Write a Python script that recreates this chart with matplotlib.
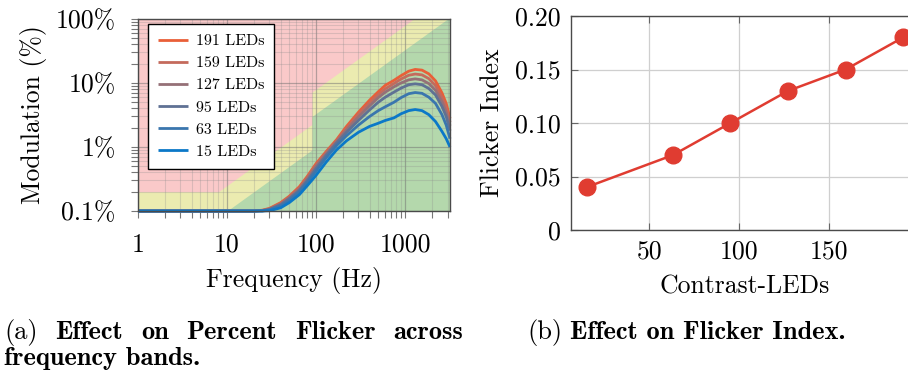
import matplotlib
matplotlib.use("Agg")
import matplotlib.pyplot as plt
from matplotlib.ticker import FixedLocator, FixedFormatter, LogLocator, NullFormatter

plt.rcParams["font.family"] = ["cmr10", "DejaVu Sans"]
plt.rcParams["axes.unicode_minus"] = False
plt.rcParams["mathtext.fontset"] = "cm"

# ---------------- Panel (a): percent flicker vs frequency ----------------
freq_hz = [1, 20, 25, 30, 40, 50, 65, 80, 100, 130, 170, 220, 300, 400, 500,
           600, 750, 900, 1100, 1300, 1550, 1850, 2200, 2600, 2900, 3200]

mod_191 = [0.1, 0.1, 0.103, 0.11, 0.135, 0.17, 0.24, 0.35, 0.55, 0.85, 1.3, 2.1, 3.5,
           5.4, 7.3, 9.2, 11.0, 13.0, 15.3, 16.3, 15.9, 13.9, 10.8, 7.0, 4.8, 2.8]
mod_159 = [0.1, 0.1, 0.102, 0.108, 0.131, 0.165, 0.23, 0.335, 0.52, 0.82, 1.25, 1.95, 3.25,
           4.9, 6.6, 8.1, 9.8, 11.5, 13.2, 13.8, 13.4, 11.7, 9.1, 6.0, 4.1, 2.45]
mod_127 = [0.1, 0.1, 0.102, 0.107, 0.128, 0.16, 0.22, 0.32, 0.5, 0.78, 1.2, 1.85, 2.95,
           4.4, 5.9, 7.2, 8.7, 10.0, 11.2, 11.6, 11.2, 9.8, 7.7, 5.1, 3.5, 2.15]
mod_95 = [0.1, 0.1, 0.101, 0.106, 0.125, 0.155, 0.21, 0.3, 0.46, 0.74, 1.15, 1.7, 2.6,
          3.8, 5.0, 6.0, 7.2, 8.3, 9.4, 9.7, 9.4, 8.2, 6.5, 4.3, 3.0, 1.8]
mod_63 = [0.1, 0.1, 0.1, 0.104, 0.12, 0.145, 0.2, 0.28, 0.42, 0.68, 1.05, 1.5, 2.2,
          3.0, 3.7, 4.25, 5.0, 5.9, 6.8, 7.1, 6.9, 6.0, 4.8, 3.2, 2.2, 1.35]
mod_15 = [0.1, 0.1, 0.1, 0.101, 0.112, 0.135, 0.18, 0.25, 0.36, 0.58, 0.9, 1.25, 1.7,
          2.1, 2.35, 2.6, 2.85, 3.3, 3.7, 3.85, 3.7, 3.2, 2.5, 1.75, 1.35, 1.0]

series_labels = ["191 LEDs", "159 LEDs", "127 LEDs", "95 LEDs", "63 LEDs", "15 LEDs"]
series_values = [mod_191, mod_159, mod_127, mod_95, mod_63, mod_15]
series_colors = ["#E95F38", "#C46A5C", "#957077", "#5F7194", "#3A76AE", "#0B78C8"]

# IEEE 1789 risk boundaries (modulation in %)
low_risk_f = [1, 8, 90, 90, 1250, 3200]
low_risk_m = [0.2, 0.2, 2.25, 7.2, 100, 100]
no_effect_f = [1, 10, 90, 90, 3000, 3200]
no_effect_m = [0.1, 0.1, 0.9, 3.0, 100, 100]

x_ticks_a = [1, 10, 100, 1000]
x_ticklabels_a = ["1", "10", "100", "1000"]
y_ticks_a = [0.1, 1, 10, 100]
y_ticklabels_a = ["0.1%", "1%", "10%", "100%"]

# ---------------- Panel (b): flicker index vs LED count ----------------
contrast_leds = [15, 63, 95, 127, 159, 191]
flicker_index = [0.04, 0.07, 0.10, 0.13, 0.15, 0.18]
y_ticks_b = [0, 0.05, 0.10, 0.15, 0.20]
y_ticklabels_b = ["0", "0.05", "0.10", "0.15", "0.20"]
x_ticks_b = [50, 100, 150]

W, H = 908, 376
fig = plt.figure(figsize=(W / 100, H / 100), dpi=100)

def frac(left, top, right, bottom):
    return [left / W, 1 - bottom / H, (right - left) / W, (bottom - top) / H]

FS = 18.5
spine_col = "#4a4a4a"

ax = fig.add_axes(frac(138, 19, 450, 211))
ax.set_xscale("log")
ax.set_yscale("log")
ax.set_xlim(1, 3200)
ax.set_ylim(0.1, 100)
ax.set_facecolor("#FAC9C9")
ax.fill_between(low_risk_f, 0.1, low_risk_m, color="#EBEBB0", lw=0, zorder=1)
ax.fill_between(no_effect_f, 0.1, no_effect_m, color="#B4D8AC", lw=0, zorder=1.1)

for vals, lab, col in zip(series_values, series_labels, series_colors):
    ax.plot(freq_hz, vals, color=col, lw=2.0, label=lab, zorder=3,
            solid_capstyle="butt", solid_joinstyle="round", clip_on=False)

ax.xaxis.set_major_locator(FixedLocator(x_ticks_a))
ax.xaxis.set_major_formatter(FixedFormatter(x_ticklabels_a))
ax.xaxis.set_minor_locator(LogLocator(base=10, subs=range(2, 10), numticks=20))
ax.xaxis.set_minor_formatter(NullFormatter())
ax.yaxis.set_major_locator(FixedLocator(y_ticks_a))
ax.yaxis.set_major_formatter(FixedFormatter(y_ticklabels_a))
ax.yaxis.set_minor_locator(LogLocator(base=10, subs=range(2, 10), numticks=20))
ax.yaxis.set_minor_formatter(NullFormatter())
ax.grid(True, which="major", color="#6f6f6f", alpha=0.5, lw=0.9, zorder=2)
ax.grid(True, which="minor", color="#8a8a8a", alpha=0.28, lw=0.8, zorder=2)
ax.tick_params(which="both", direction="out", color="#777777", width=0.8,
               labelsize=FS, top=False, right=False)
ax.tick_params(which="major", length=5, pad=11)
ax.tick_params(which="minor", length=5, pad=11)
for s in ax.spines.values():
    s.set_color(spine_col)
    s.set_linewidth(1.0)
    s.set_zorder(4)
ax.set_xlabel("Frequency (Hz)", fontsize=FS, labelpad=7)
ax.set_ylabel("Modulation (%)", fontsize=FS, labelpad=6)
leg = ax.legend(loc="upper left", bbox_to_anchor=(0.032, 0.972), fontsize=11.5,
                frameon=True, fancybox=False, framealpha=1, edgecolor="black",
                handlelength=1.9, handletextpad=0.5, labelspacing=0.5,
                borderpad=0.6, borderaxespad=0)
leg.get_frame().set_linewidth(1.0)
leg.set_zorder(5)

# Panel (b)
bx = fig.add_axes(frac(570.7, 16, 919, 230))
bx.set_xlim(6.2, 199.8)
bx.set_ylim(0, 0.2)
bx.plot(contrast_leds, flicker_index, color="#E03C31", lw=1.8, marker="o",
        markersize=12, zorder=3, clip_on=False)
bx.set_xticks(x_ticks_b)
bx.set_yticks(y_ticks_b)
bx.set_yticklabels(y_ticklabels_b)
bx.grid(True, color="#cfcfcf", lw=0.9)
bx.set_axisbelow(True)
bx.tick_params(direction="in", length=5, color="#666666", labelsize=FS, pad=7,
               top=True, right=False)
for s in bx.spines.values():
    s.set_color(spine_col)
    s.set_linewidth(1.0)
bx.set_xlabel("Contrast-LEDs", fontsize=FS, labelpad=8)
bx.set_ylabel("Flicker Index", fontsize=FS, labelpad=8)

# Captions: first line of (a) is justified across the subfigure width
cap_fs = 19.0
renderer = fig.canvas.get_renderer()

def text_w(s, family):
    t = fig.text(0, 0, s, fontsize=cap_fs, family=family)
    w = t.get_window_extent(renderer).width
    t.remove()
    return w

line1 = [("(a)", "cmr10"), ("Effect", "cmb10"), ("on", "cmb10"), ("Percent", "cmb10"),
         ("Flicker", "cmb10"), ("across", "cmb10")]
x0, x1 = 4.0, 463.0
widths = [text_w(s, f) for s, f in line1]
gap = (x1 - x0 - sum(widths)) / (len(line1) - 1)
x = x0
for (s, f), w in zip(line1, widths):
    fig.text(x / W, 1 - 339 / H, s, fontsize=cap_fs, family=f, va="baseline")
    x += w + gap
fig.text(x0 / W, 1 - 365 / H, "frequency bands.", fontsize=cap_fs, family="cmb10",
         va="baseline")

bx0 = 527.0
fig.text(bx0 / W, 1 - 339 / H, "(b)", fontsize=cap_fs, family="cmr10", va="baseline")
bx1 = bx0 + text_w("(b)", "cmr10") + 8
fig.text(bx1 / W, 1 - 339 / H, "Effect on Flicker Index.", fontsize=cap_fs,
         family="cmb10", va="baseline")

fig.savefig("out.png", dpi=100)
